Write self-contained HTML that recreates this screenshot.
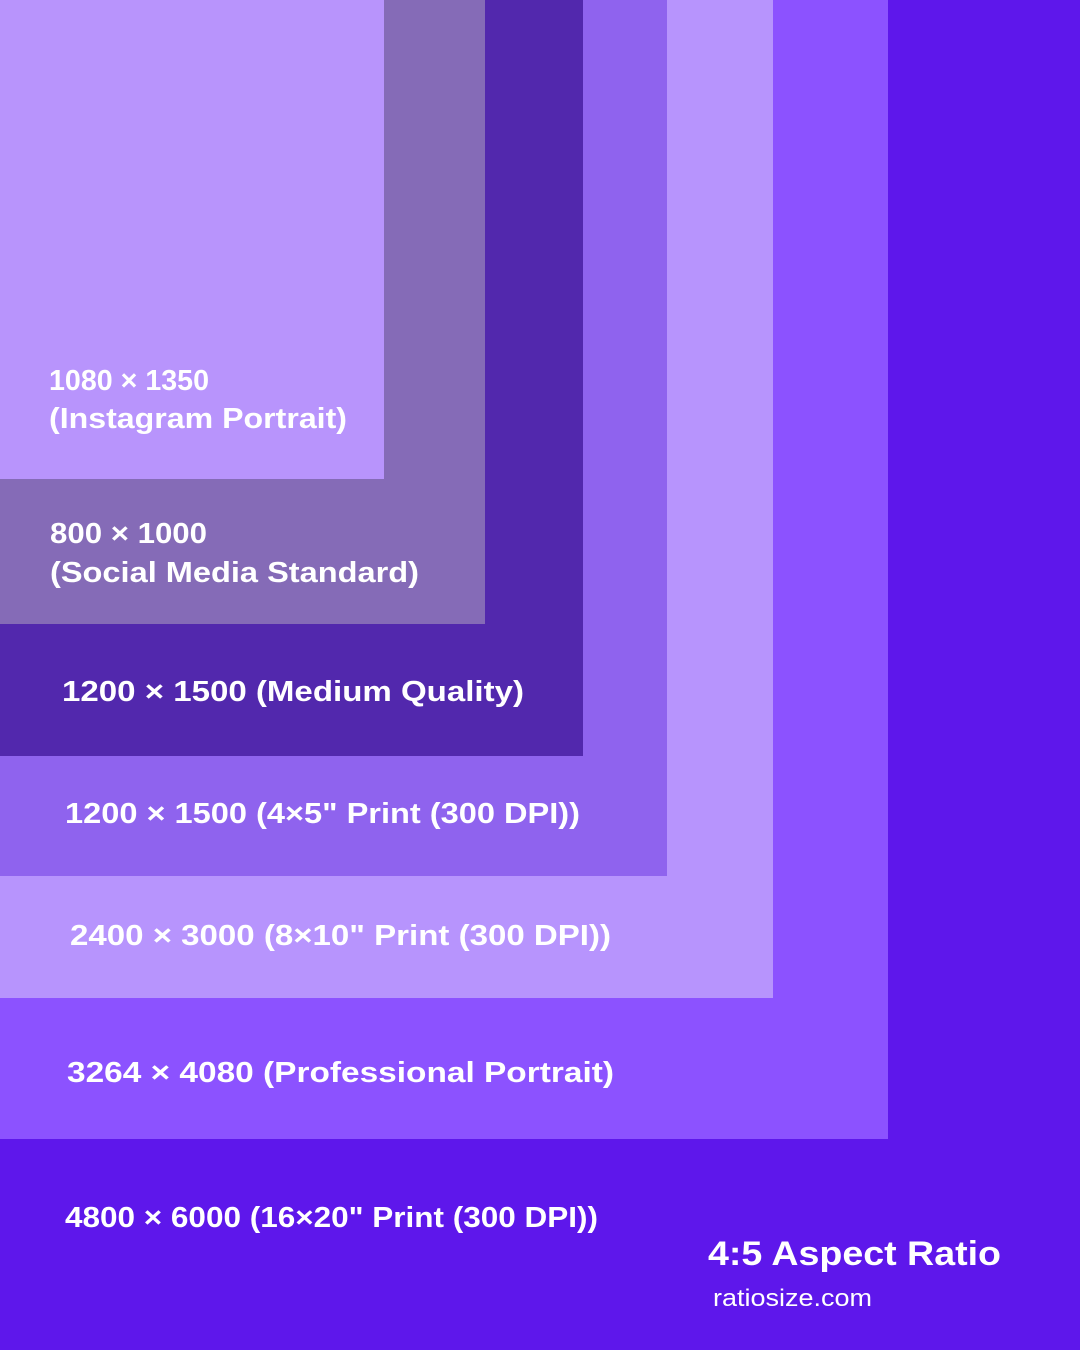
<!DOCTYPE html>
<html><head><meta charset="utf-8"><style>
html,body{margin:0;padding:0;background:#5e17eb}
svg{display:block}
text{font-family:"Liberation Sans",sans-serif;font-weight:bold;fill:#fff}
</style></head><body>
<svg width="1080" height="1350" viewBox="0 0 1080 1350" xmlns="http://www.w3.org/2000/svg">
<rect x="0" y="0" width="1080" height="1350" fill="#5e17eb"/>
<rect x="0" y="0" width="888" height="1139" fill="#8c52ff"/>
<rect x="0" y="0" width="773" height="998" fill="#b794fd"/>
<rect x="0" y="0" width="667" height="876" fill="#8f63ee"/>
<rect x="0" y="0" width="583" height="756" fill="#5228ad"/>
<rect x="0" y="0" width="485" height="624" fill="#856bb7"/>
<rect x="0" y="0" width="384" height="479" fill="#b894fc"/>
<g font-size="29">
<text x="49" y="390" textLength="160" lengthAdjust="spacingAndGlyphs">1080 × 1350</text>
<text x="49" y="428" textLength="298" lengthAdjust="spacingAndGlyphs">(Instagram Portrait)</text>
<text x="50" y="543" textLength="157" lengthAdjust="spacingAndGlyphs">800 × 1000</text>
<text x="50" y="582" textLength="369" lengthAdjust="spacingAndGlyphs">(Social Media Standard)</text>
<text x="62" y="701" textLength="462" lengthAdjust="spacingAndGlyphs">1200 × 1500 (Medium Quality)</text>
<text x="65" y="823" textLength="515" lengthAdjust="spacingAndGlyphs">1200 × 1500 (4×5" Print (300 DPI))</text>
<text x="70" y="945" textLength="541" lengthAdjust="spacingAndGlyphs">2400 × 3000 (8×10" Print (300 DPI))</text>
<text x="67" y="1082" textLength="547" lengthAdjust="spacingAndGlyphs">3264 × 4080 (Professional Portrait)</text>
<text x="65" y="1227" textLength="533" lengthAdjust="spacingAndGlyphs">4800 × 6000 (16×20" Print (300 DPI))</text>
</g>
<text x="708" y="1265" font-size="34" textLength="293" lengthAdjust="spacingAndGlyphs">4:5 Aspect Ratio</text>
<text x="713" y="1306" font-size="24" font-weight="normal" style="font-weight:normal" textLength="159" lengthAdjust="spacingAndGlyphs">ratiosize.com</text>
</svg>
</body></html>
